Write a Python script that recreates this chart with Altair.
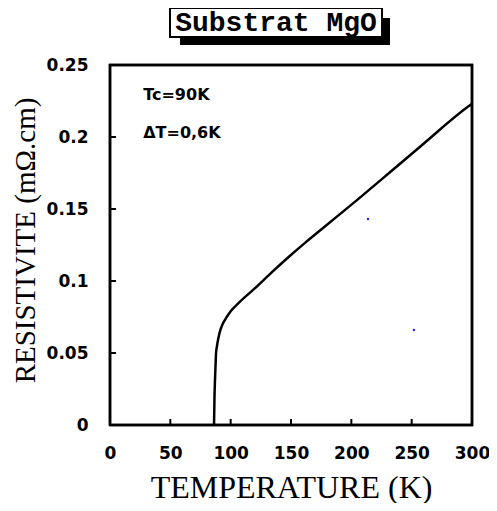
import altair as alt
import pandas as pd

# Curve (temperature K, resistivity mOhm.cm)
temp = [86.2, 86.6, 87.0, 87.5, 87.9, 88.7, 89.75, 91.5, 93.3, 95.3, 100.0, 106.3, 120.2, 134.0, 147.8, 161.6, 176.8, 204.4, 232.0, 259.4, 298.3, 300.0]
resist = [0.0, 0.020, 0.031, 0.042, 0.050, 0.055, 0.060, 0.066, 0.070, 0.073, 0.079, 0.0845, 0.095, 0.106, 0.1165, 0.1265, 0.137, 0.156, 0.1755, 0.195, 0.222, 0.223]

# stray blue specks in the scan
speck_t = [213.8, 251.9]
speck_r = [0.143, 0.066]

x_ticks = [0, 50, 100, 150, 200, 250, 300]
y_ticks = [0, 0.05, 0.1, 0.15, 0.2, 0.25]
x_inner = [50, 100, 150, 200, 250]
y_inner = [0.05, 0.1, 0.15, 0.2]

# frame corners in data units (closed path)
frame_x = [0, 300, 300, 0, 0]
frame_y = [0, 0, 0.25, 0.25, 0]

notes = ["Tc=90K", "ΔT=0,6K"]
note_t = [27.5, 27.5]
note_r = [0.229, 0.203]

title_text = "Substrat MgO"

curve = pd.DataFrame({"T": temp, "R": resist})
specks = pd.DataFrame({"T": speck_t, "R": speck_r})
fr = pd.DataFrame({"x": frame_x, "y": frame_y, "o": list(range(len(frame_x)))})

tick_rows = []
for v in x_inner:
    tick_rows.append({"id": f"x{v}", "x": v, "y": 0.0})
    tick_rows.append({"id": f"x{v}", "x": v, "y": 0.0042})
for v in y_inner:
    tick_rows.append({"id": f"y{v}", "x": 0.0, "y": v})
    tick_rows.append({"id": f"y{v}", "x": 5.0, "y": v})
tk = pd.DataFrame(tick_rows)

nt = pd.DataFrame({"label": notes, "T": note_t, "R": note_r})
one = pd.DataFrame({"t": [title_text]})

xs = alt.Scale(domain=[0, 300], nice=False, zero=False)
ys = alt.Scale(domain=[0, 0.25], nice=False)

xaxis = alt.Axis(values=x_ticks, format="d", labelFont="DejaVu Sans", labelFontWeight="bold",
                 labelFontSize=17, labelPadding=20, labelFlush=False, labelOverlap=False,
                 ticks=False, domain=False, grid=False,
                 title="TEMPERATURE (K)", titleFont="Liberation Serif", titleFontSize=32,
                 titleFontWeight="normal", titleX=181, titleY=62, titleBaseline="middle",
                 labelColor="black", titleColor="black")
yaxis = alt.Axis(values=y_ticks, labelExpr="'' + datum.value", labelFont="DejaVu Sans",
                 labelFontWeight="bold", labelFontSize=17, labelPadding=22, labelFlush=False,
                 labelOverlap=False, ticks=False,
                 domain=False, grid=False, title="RESISTIVITE (mΩ.cm)",
                 titleFont="Liberation Serif", titleFontSize=29, titleFontWeight="normal",
                 titleX=-85, titleY=175, titleAlign="center", titleBaseline="middle",
                 labelColor="black", titleColor="black")

line = alt.Chart(curve).mark_line(color="black", strokeWidth=2.5, interpolate="monotone").encode(
    x=alt.X("T:Q", scale=xs, axis=xaxis),
    y=alt.Y("R:Q", scale=ys, axis=yaxis),
)

frame = alt.Chart(fr).mark_line(color="black", strokeWidth=2.5, strokeJoin="miter").encode(
    x=alt.X("x:Q", scale=xs), y=alt.Y("y:Q", scale=ys), order="o:Q")

ticks = alt.Chart(tk).mark_line(color="black", strokeWidth=2).encode(
    x=alt.X("x:Q", scale=xs), y=alt.Y("y:Q", scale=ys), detail="id:N")

dots = alt.Chart(specks).mark_point(filled=True, color="#2222ff", size=6, opacity=1).encode(
    x=alt.X("T:Q", scale=xs), y=alt.Y("R:Q", scale=ys))

note_layer = alt.Chart(nt).mark_text(align="left", baseline="middle", font="DejaVu Sans",
                                     fontWeight="bold", fontSize=16, color="black").encode(
    x=alt.X("T:Q", scale=xs), y=alt.Y("R:Q", scale=ys), text="label:N")

shadow = alt.Chart(one).mark_rect(color="black").encode(
    x=alt.value(70), x2=alt.value(280), y=alt.value(-47), y2=alt.value(-20))
box = alt.Chart(one).mark_rect(fill="white", stroke="black", strokeWidth=2).encode(
    x=alt.value(60), x2=alt.value(272), y=alt.value(-57), y2=alt.value(-28))
ttl = alt.Chart(one).mark_text(font="Liberation Mono", fontWeight="bold", fontSize=28,
                               color="black", align="center", baseline="middle").encode(
    x=alt.value(166), y=alt.value(-42), text="t:N")

chart = alt.layer(line, frame, ticks, dots, note_layer, shadow, box, ttl).properties(
    width=362, height=360,
    autosize=alt.AutoSizeParams(type="none"),
    padding={"left": 102, "top": 57, "right": 17, "bottom": 78},
).configure_view(stroke="black", strokeWidth=2.5)

chart.save("out.html", embed_options={"renderer": "svg", "actions": False})
